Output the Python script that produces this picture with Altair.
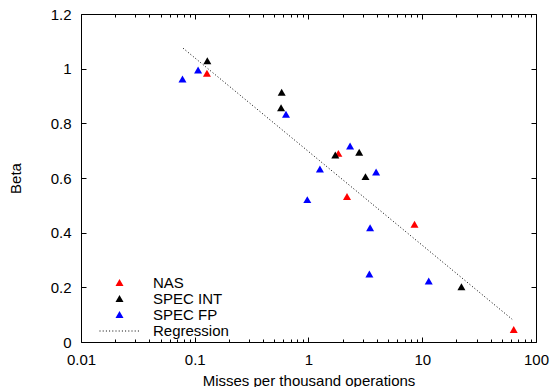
import altair as alt
import pandas as pd

# ---- data ----
nas_x = [0.128, 1.83, 2.18, 8.55, 63.7]
nas_y = [0.983, 0.690, 0.532, 0.431, 0.046]
int_x = [0.129, 0.581, 0.574, 1.72, 2.79, 3.17, 22.1]
int_y = [1.029, 0.914, 0.857, 0.684, 0.694, 0.605, 0.202]
fp_x = [0.078, 0.107, 0.634, 1.26, 2.32, 3.93, 0.976, 3.48, 3.43, 11.4]
fp_y = [0.962, 0.995, 0.833, 0.633, 0.717, 0.622, 0.521, 0.418, 0.249, 0.223]
reg_x = [0.0789, 61.7]
reg_y = [1.075, 0.083]

series_names = ["NAS", "SPEC INT", "SPEC FP"]
series_colors = ["#ff0000", "#000000", "#0000ff"]
x_major = [0.01, 0.1, 1, 10, 100]
x_minor = [m * d for d in [0.01, 0.1, 1, 10] for m in range(2, 10)]
y_ticks = [0, 0.2, 0.4, 0.6, 0.8, 1.0, 1.2]

rows = []
for name, xs_, ys_ in [("NAS", nas_x, nas_y), ("SPEC INT", int_x, int_y), ("SPEC FP", fp_x, fp_y)]:
    for a, b in zip(xs_, ys_):
        rows.append({"x": a, "y": b, "series": name})
df = pd.DataFrame(rows)
regdf = pd.DataFrame({"x": reg_x, "y": reg_y, "name": ["Regression"] * len(reg_x)})

FONT = "Liberation Sans"
xs = alt.Scale(type="log", domain=[0.01, 100], nice=False)
ys = alt.Scale(domain=[0, 1.2], nice=False, zero=False)


def tick_axis(orient, values, size):
    return alt.Axis(orient=orient, values=values, tickSize=size, offset=-size,
                    domain=False, grid=False, labels=False, title=None,
                    tickColor="black", tickWidth=1)


points = alt.Chart(df).mark_point(shape="triangle-up", filled=True, size=64,
                                  opacity=1, strokeWidth=0).encode(
    x=alt.X("x:Q", scale=xs, axis=alt.Axis(
        orient="bottom", values=x_major, tickSize=5, offset=-5, domain=False,
        grid=False, format="~g", labelPadding=10, labelFlush=False,
        labelOverlap=False, title="Misses per thousand operations",
        titlePadding=6, tickColor="black")),
    y=alt.Y("y:Q", scale=ys, axis=alt.Axis(
        orient="left", values=y_ticks, tickSize=5, offset=-5, domain=False,
        grid=False, format="~g", labelPadding=10, labelFlush=False,
        labelOverlap=False, title="Beta", titlePadding=27, tickColor="black")),
    color=alt.Color("series:N",
                    scale=alt.Scale(domain=series_names, range=series_colors),
                    legend=alt.Legend(orient="none", legendX=31, legendY=261,
                                      title=None, symbolType="triangle-up",
                                      symbolSize=64, labelOffset=26,
                                      rowPadding=0, padding=0,
                                      symbolStrokeWidth=0)),
)

reg = alt.Chart(regdf).mark_line(color="black", strokeWidth=1).encode(
    x=alt.X("x:Q", scale=xs, axis=tick_axis("top", x_major, 5)),
    y=alt.Y("y:Q", scale=ys, axis=tick_axis("right", y_ticks, 5)),
    strokeDash=alt.StrokeDash("name:N",
                              scale=alt.Scale(domain=["Regression"], range=[[1, 2.2]]),
                              legend=alt.Legend(orient="none", legendX=18, legendY=296,
                                                title=None, symbolType="stroke",
                                                symbolSize=1681, symbolStrokeColor="black",
                                                symbolStrokeWidth=1, labelOffset=12,
                                                padding=0)),
)

minor_b = alt.Chart(regdf).mark_line(opacity=0).encode(
    x=alt.X("x:Q", scale=xs, axis=tick_axis("bottom", x_minor, 3)),
    y=alt.Y("y:Q", scale=ys, axis=None),
)
minor_t = alt.Chart(regdf).mark_line(opacity=0).encode(
    x=alt.X("x:Q", scale=xs, axis=tick_axis("top", x_minor, 3)),
    y=alt.Y("y:Q", scale=ys, axis=None),
)

chart = alt.layer(points, reg, minor_b, minor_t).resolve_axis(
    x="independent", y="independent"
).properties(
    width=455, height=328,
    autosize=alt.AutoSizeParams(type="none"),
    padding={"left": 81, "top": 14, "right": 17, "bottom": 45},
    background="white",
).configure_view(
    stroke="black", strokeWidth=1
).configure_axis(
    labelFont=FONT, labelFontSize=15, labelColor="black",
    titleFont=FONT, titleFontSize=15, titleFontWeight="normal", titleColor="black",
).configure_legend(
    labelFont=FONT, labelFontSize=15, labelColor="black",
)

chart.save("out.html", embed_options={"renderer": "svg", "actions": False})
